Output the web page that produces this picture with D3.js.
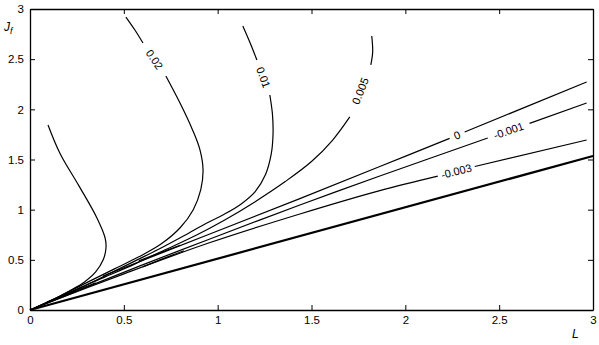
<!DOCTYPE html>
<html>
<head>
<meta charset="utf-8">
<script src="https://cdn.jsdelivr.net/npm/d3@7"></script>
<style>
  body { margin: 0; background: #fff; }
  text { font-family: "Liberation Sans", Arial, sans-serif; }
</style>
</head>
<body>
<div id="chart"></div>
<script>
// axis ticks
const tickVals = [0, 0.5, 1, 1.5, 2, 2.5, 3];

// contour lines, [L, Jf] points; pieces are split where the label sits
const levelNames = ["0.02", "0.01", "0.005", "0", "-0.001", "-0.003"];

const curveLeft = [[0.096,1.844],[0.16,1.56],[0.26,1.24],[0.356,0.92],[0.40,0.72],[0.405,0.62],
  [0.39,0.50],[0.35,0.38],[0.29,0.28],[0.21,0.19],[0.13,0.11],[0.06,0.05],[0,0]];

const curve002 = [
  [[0.511,2.920],[0.559,2.791],[0.602,2.661]],
  [[0.724,2.332],[0.80,2.06],[0.865,1.80],[0.905,1.60],[0.922,1.40],[0.91,1.20],[0.87,1.00],
   [0.80,0.82],[0.70,0.66],[0.58,0.53],[0.45,0.41],[0.31,0.28],[0.16,0.14],[0,0]]
];
const curve001 = [
  [[1.134,2.831],[1.171,2.671],[1.209,2.492]],
  [[1.278,2.143],[1.292,1.95],[1.295,1.75],[1.285,1.55],[1.255,1.35],[1.20,1.18],[1.12,1.05],
   [1.03,0.95],[0.94,0.865],[0.82,0.74],[0.68,0.60],[0.55,0.48],[0.42,0.36],[0.28,0.23],
   [0.14,0.11],[0,0]]
];
const curve0005 = [
  [[1.821,2.731],[1.826,2.571],[1.816,2.442]],
  [[1.704,1.924],[1.613,1.694],[1.50,1.48],[1.36,1.28],[1.20,1.08],[1.04,0.90],[0.88,0.74],
   [0.72,0.60],[0.56,0.46],[0.40,0.33],[0.25,0.21],[0.12,0.10],[0,0]]
];
const curve0 = [
  [[0.389,0.339],[0.948,0.75],[1.438,1.11],[1.864,1.43],[2.236,1.71]],
  [[2.316,1.774],[2.966,2.272]]
];
const curveM001 = [
  [[0.053,0.040],[0.586,0.44],[0.948,0.70],[1.438,1.047],[1.864,1.335],[2.439,1.714]],
  [[2.662,1.86],[2.966,2.063]]
];
const curveM003 = [
  [[0.053,0.040],[0.479,0.345],[0.948,0.665],[1.438,0.957],[1.864,1.19],[2.173,1.335]],
  [[2.370,1.43],[2.966,1.694]]
];
// short overlapping pieces near the origin
const extraPieces = [
  [[0.09,0.08],[0.20,0.16],[0.35,0.27]],
  [[0.58,0.49],[0.70,0.575],[0.80,0.645]],
  [[0.60,0.43],[0.72,0.52],[0.82,0.59]]
];
// boundary line
const boundary = [[0,0],[3,1.535]];

const width = 599, height = 345;
const margin = {top: 9, right: 6, bottom: 35, left: 30};

const svg = d3.select("#chart").append("svg")
  .attr("width", width)
  .attr("height", height);

const x = d3.scaleLinear().domain([0, 3]).range([margin.left, width - margin.right]);
const y = d3.scaleLinear().domain([0, 3]).range([height - margin.bottom, margin.top]);

const line = d3.line()
  .x(d => x(d[0]))
  .y(d => y(d[1]))
  .curve(d3.curveCatmullRom.alpha(0.5));

const fmt = d => d3.format("")(d);

// axes, ticks inside on all four sides
svg.append("g")
  .attr("transform", `translate(0,${y(0)})`)
  .call(d3.axisBottom(x).tickValues(tickVals).tickFormat(fmt).tickSizeInner(-5).tickSizeOuter(0).tickPadding(6));
svg.append("g")
  .attr("transform", `translate(${x(0)},0)`)
  .call(d3.axisLeft(y).tickValues(tickVals).tickFormat(fmt).tickSizeInner(-5).tickSizeOuter(0).tickPadding(6));
svg.append("g")
  .attr("transform", `translate(0,${y(3)})`)
  .call(d3.axisTop(x).tickValues(tickVals).tickFormat("").tickSizeInner(-5).tickSizeOuter(0));
svg.append("g")
  .attr("transform", `translate(${x(3)},0)`)
  .call(d3.axisRight(y).tickValues(tickVals).tickFormat("").tickSizeInner(-5).tickSizeOuter(0));

svg.selectAll(".domain").attr("stroke", "#000").attr("stroke-width", 1.3);
svg.selectAll(".tick line").attr("stroke", "#000");
svg.selectAll(".tick text").attr("font-size", 11.5).attr("fill", "#000")
  .attr("font-family", "'Liberation Sans', Arial, sans-serif");

const plot = svg.append("g");

function drawPiece(pts, w) {
  plot.append("path")
    .datum(pts)
    .attr("d", line)
    .attr("fill", "none")
    .attr("stroke", "#000")
    .attr("stroke-width", w || 1.2);
}

drawPiece(boundary, 2.2);
drawPiece(curveLeft);
extraPieces.forEach(p => drawPiece(p));

const labelled = [curve002, curve001, curve0005, curve0, curveM001, curveM003];
labelled.forEach((pieces, i) => {
  pieces.forEach(p => drawPiece(p));
  const a = pieces[0][pieces[0].length - 1];
  const b = pieces[1][0];
  const ax = x(a[0]), ay = y(a[1]), bx = x(b[0]), by = y(b[1]);
  let ang = Math.atan2(by - ay, bx - ax) * 180 / Math.PI;
  if (ang > 90) ang -= 180;
  if (ang < -90) ang += 180;
  plot.append("text")
    .attr("transform", `translate(${(ax + bx) / 2},${(ay + by) / 2}) rotate(${ang})`)
    .attr("text-anchor", "middle")
    .attr("dy", "0.35em")
    .attr("font-size", 11)
    .text(levelNames[i]);
});

// axis titles
const jl = svg.append("text")
  .attr("x", 4)
  .attr("y", 31)
  .attr("font-family", "'Liberation Serif', serif")
  .attr("font-style", "italic")
  .attr("font-size", 12);
jl.append("tspan").text("J");
jl.append("tspan").attr("font-size", 9).attr("dy", 3).text("f");

svg.append("text")
  .attr("x", 572)
  .attr("y", 338)
  .attr("font-family", "'Liberation Serif', serif")
  .attr("font-style", "italic")
  .attr("font-size", 12)
  .text("L");
</script>
</body>
</html>
